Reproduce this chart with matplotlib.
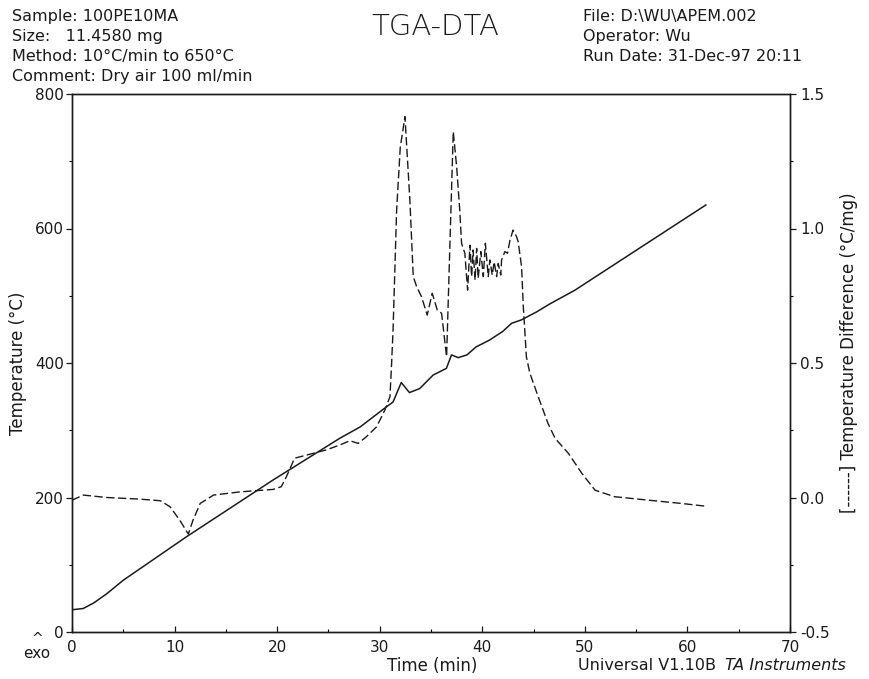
import matplotlib
matplotlib.use("Agg")
import matplotlib.pyplot as plt
from matplotlib.ticker import MultipleLocator

# Sample temperature trace (solid line, left axis)
time_temp = [0.0, 1.1, 2.1, 3.4, 5.0, 11.2, 19.6, 26.1, 28.1, 30.5, 31.3, 32.1,
             32.9, 33.9, 35.2, 36.5, 37.0, 37.65, 38.5, 39.4, 40.7, 42.0, 42.85,
             43.8, 45.3, 46.6, 49.0, 61.8]
temperature = [33, 35, 43, 57, 77, 142, 226, 288, 305, 333, 342, 371,
               356, 362, 382, 392, 412, 408, 412, 424, 434, 447, 459,
               464, 476, 488, 508, 635]

# Temperature difference trace (dashed line, right axis)
time_dta = [0.0, 1.1, 3.4, 6.6, 8.6, 9.55, 10.5, 11.34, 11.8, 12.5, 13.8, 16.4,
            19.6, 20.4, 20.9, 21.7, 22.9, 24.8, 26.1, 27.1, 27.9, 28.7, 29.7,
            30.5, 31.0, 31.16, 31.3, 31.65, 32.0, 32.46, 32.94, 33.27, 33.6,
            34.08, 34.63, 35.12, 35.61, 36.03, 36.52, 37.17, 37.5, 37.8, 37.98,
            38.3, 38.57, 38.8, 38.96, 39.1, 39.3, 39.45, 39.6, 39.86, 40.1, 40.3,
            40.58, 40.74, 40.97, 41.16, 41.4, 41.55, 41.8, 41.88, 42.2, 42.46,
            42.7, 43.0, 43.34, 43.5, 43.83, 44.0, 44.3, 44.64, 45.45, 46.4, 47.1,
            48.4, 49.7, 51.0, 52.9, 56.2, 59.4, 61.7]
temp_diff = [-0.01, 0.009, 0.0, -0.006, -0.012, -0.034, -0.084, -0.136, -0.084,
             -0.022, 0.009, 0.021, 0.030, 0.040, 0.077, 0.146, 0.158, 0.177,
             0.195, 0.211, 0.201, 0.226, 0.263, 0.325, 0.375, 0.499, 0.623,
             1.069, 1.30, 1.416, 1.106, 0.821, 0.784, 0.746, 0.678, 0.759, 0.697,
             0.685, 0.523, 1.36, 1.23, 1.07, 0.945, 0.908, 0.771, 0.938, 0.821,
             0.92, 0.808, 0.926, 0.815, 0.914, 0.821, 0.945, 0.821, 0.883, 0.827,
             0.876, 0.821, 0.87, 0.827, 0.883, 0.914, 0.908, 0.957, 0.994, 0.97,
             0.951, 0.858, 0.71, 0.523, 0.462, 0.375, 0.276, 0.22, 0.164, 0.09,
             0.027, 0.003, -0.01, -0.022, -0.032]

header_left = ["Sample: 100PE10MA", "Size:   11.4580 mg",
               "Method: 10°C/min to 650°C", "Comment: Dry air 100 ml/min"]
header_right = ["File: D:\\WU\\APEM.002", "Operator: Wu",
                "Run Date: 31-Dec-97 20:11"]

plt.rcParams['font.family'] = ['DejaVu Sans']
plt.rcParams['axes.unicode_minus'] = False
ink = '#1a1a1a'

W, H = 870, 679
fig = plt.figure(figsize=(W / 100, H / 100), dpi=100)
ax = fig.add_axes([72 / W, 1 - 632 / H, (790 - 72) / W, (632 - 94) / H])

ax.plot(time_temp, temperature, color=ink, lw=1.1)
ax.set_xlim(0, 70)
ax.set_ylim(0, 800)
ax.xaxis.set_major_locator(MultipleLocator(10))
ax.xaxis.set_minor_locator(MultipleLocator(5))
ax.yaxis.set_major_locator(MultipleLocator(200))
ax.yaxis.set_minor_locator(MultipleLocator(100))
ax.tick_params(axis='x', which='major', direction='in', length=4, width=0.9,
               pad=6, labelsize=11, colors=ink)
ax.tick_params(axis='x', which='minor', direction='in', length=2.5, width=0.8)
ax.tick_params(axis='y', which='major', direction='out', length=4.5, width=0.9,
               pad=1.5, labelsize=11, colors=ink)
ax.tick_params(axis='y', which='minor', direction='out', length=2, width=0.8)

ax2 = ax.twinx()
ax2.plot(time_dta, temp_diff, color=ink, lw=1.0, dashes=(6, 2.5))
ax2.set_ylim(-0.5, 1.5)
ax2.yaxis.set_major_locator(MultipleLocator(0.5))
ax2.yaxis.set_minor_locator(MultipleLocator(0.25))
ax2.yaxis.set_major_formatter(lambda v, p: f"{v:.1f}")
ax2.tick_params(axis='y', which='major', direction='out', length=4.5, width=0.9,
                pad=3, labelsize=11, colors=ink)
ax2.tick_params(axis='y', which='minor', direction='out', length=2, width=0.8)

for a in (ax, ax2):
    for s in a.spines.values():
        s.set_linewidth(1.0)
        s.set_color(ink)

ax.set_ylabel("Temperature (°C)", fontsize=12, color=ink)
ax.yaxis.set_label_coords(-0.063, 0.5)
ax.set_xlabel("Time (min)", fontsize=12, color=ink)
ax.xaxis.set_label_coords(0.501, -0.046)
ax2.set_ylabel("[------] Temperature Difference (°C/mg)", fontsize=12,
               color=ink, rotation=90)
ax2.yaxis.set_label_coords(1.069, 0.52)

# header block
for i, line in enumerate(header_left):
    fig.text(12 / W, 1 - (17 + 19.7 * i) / H, line, fontsize=11.5,
             va='center', ha='left', color=ink)
for i, line in enumerate(header_right):
    fig.text(583 / W, 1 - (17 + 19.7 * i) / H, line, fontsize=11.5,
             va='center', ha='left', color=ink)
fig.text(435 / W, 1 - 27 / H, "TGA-DTA", fontsize=21, fontweight='light',
         va='center', ha='center', color=ink)

# footer
fig.text(37 / W, 1 - 639 / H, "^", fontsize=10, va='center', ha='center', color=ink)
fig.text(37 / W, 1 - 654 / H, "exo", fontsize=11, va='center', ha='center', color=ink)
t1 = fig.text(578 / W, 1 - 665 / H, "Universal V1.10B", fontsize=11.5,
              va='center', ha='left', color=ink)
fig.canvas.draw()
bb = t1.get_window_extent()
fig.text((bb.x1 + 9) / W, 1 - 665 / H, "TA Instruments", fontsize=11.5,
         style='italic', va='center', ha='left', color=ink)

fig.savefig("out.png", dpi=100)
